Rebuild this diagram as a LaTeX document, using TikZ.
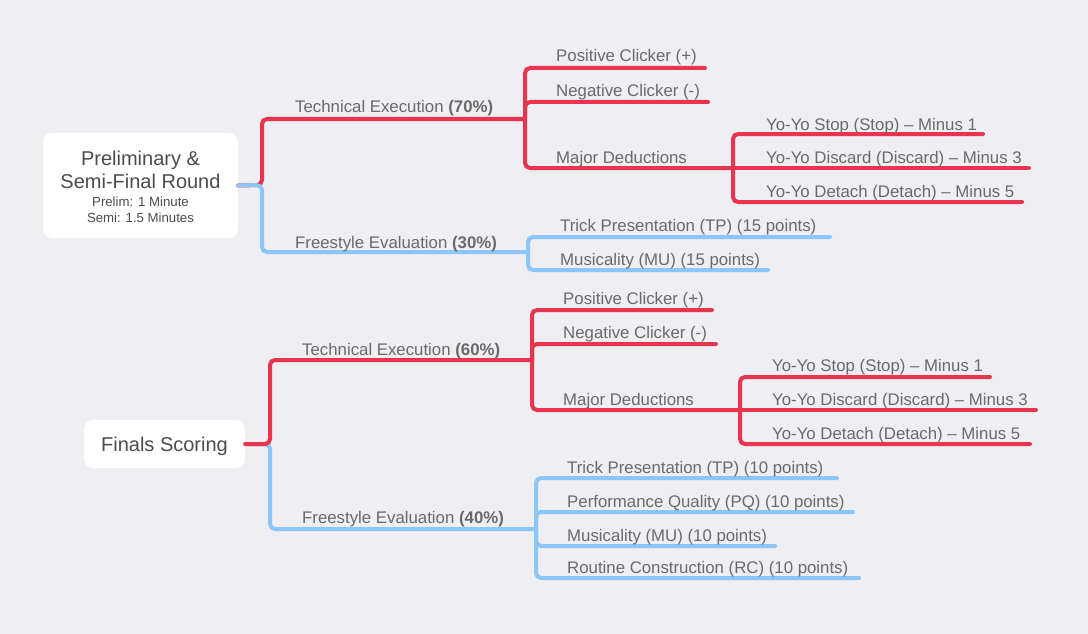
\documentclass[tikz,border=0pt]{standalone}
\usepackage{fontspec}
\setmainfont{Liberation Sans}
\definecolor{bg}{HTML}{EEEEF3}
\definecolor{redl}{HTML}{E8344F}
\definecolor{bluel}{HTML}{8AC6F8}
\definecolor{txt}{HTML}{6A6A6A}
\definecolor{roottxt}{HTML}{4C4C4C}
\begin{document}
\begin{tikzpicture}[x=1pt,y=-1pt,
  redline/.style={draw=redl,line width=4pt,rounded corners=5pt,line cap=round},
  blueline/.style={draw=bluel,line width=4pt,rounded corners=5pt,line cap=round},
  lbl/.style={anchor=base west,inner sep=0pt,text=txt,font=\fontsize{16.8}{19}\selectfont},
  rootbox/.style={fill=white,rounded corners=9pt,inner sep=0pt},
  roottitle/.style={anchor=base,inner sep=0pt,text=roottxt,font=\fontsize{20}{23}\selectfont},
  rootsub/.style={anchor=base,inner sep=0pt,text=roottxt,font=\fontsize{13.2}{16}\selectfont}]
\fill[bg] (0,0) rectangle (1088,634);
\useasboundingbox (0,0) rectangle (1088,634);

% ---------- top tree ----------
\node[rootbox,minimum width=195pt,minimum height=105pt] (r1) at (140.5,185.5) {};
\node[roottitle] (r1a) at (140.5,165) {Preliminary \&};
\node[roottitle] (r1b) at (140.5,188) {Semi-Final Round};
\node[rootsub] (r1c) at (140.5,206) {Prelim: 1 Minute};
\node[rootsub] (r1d) at (140.5,222) {Semi: 1.5 Minutes};

\coordinate (j1) at (262,185);
\coordinate (te1e) at (525,119);
\coordinate (fe1e) at (528,252);
\coordinate (pc1e) at (705,68);
\coordinate (nc1e) at (708,102);
\coordinate (md1e) at (733,168);
\coordinate (st1e) at (983,134);
\coordinate (di1e) at (1029,168);
\coordinate (de1e) at (1022,202);
\coordinate (tp1e) at (830,237);
\coordinate (mu1e) at (768,270);

\draw[redline] (r1.east) -- (j1) |- (te1e);
\draw[blueline] (r1.east) -- (j1) |- (fe1e);
\draw[redline] (te1e) |- (pc1e);
\draw[redline] (te1e) |- (nc1e);
\draw[redline] (te1e) |- (md1e);
\draw[redline] (md1e) |- (st1e);
\draw[redline] (md1e) -- (di1e);
\draw[redline] (md1e) |- (de1e);
\draw[blueline] (fe1e) |- (tp1e);
\draw[blueline] (fe1e) |- (mu1e);

\node[lbl] (te1) at (295,113) {Technical Execution \textbf{(70\%)}};
\node[lbl] (fe1) at (295,248) {Freestyle Evaluation \textbf{(30\%)}};
\node[lbl] (pc1) at (556,62) {Positive Clicker (+)};
\node[lbl] (nc1) at (556,96) {Negative Clicker (-)};
\node[lbl] (md1) at (556,163) {Major Deductions};
\node[lbl] (st1) at (766,130) {Yo-Yo Stop (Stop) – Minus 1};
\node[lbl] (di1) at (766,164) {Yo-Yo Discard (Discard) – Minus 3};
\node[lbl] (de1) at (766,197) {Yo-Yo Detach (Detach) – Minus 5};
\node[lbl] (tp1) at (560,231) {Trick Presentation (TP) (15 points)};
\node[lbl] (mu1) at (560,265) {Musicality (MU) (15 points)};

% ---------- bottom tree ----------
\node[rootbox,minimum width=161pt,minimum height=48pt] (r2) at (164.5,444) {};
\node[roottitle] (r2a) at (164.5,451) {Finals Scoring};

\coordinate (j2) at (270,444);
\coordinate (te2e) at (532,360);
\coordinate (fe2e) at (536,529);
\coordinate (pc2e) at (712,310);
\coordinate (nc2e) at (716,344);
\coordinate (md2e) at (740,410);
\coordinate (st2e) at (990,377);
\coordinate (di2e) at (1036,410);
\coordinate (de2e) at (1030,444);
\coordinate (tp2e) at (837,478);
\coordinate (pq2e) at (853,512);
\coordinate (mu2e) at (775,546);
\coordinate (rc2e) at (859,578);

\draw[blueline] (r2.east) -- (j2) |- (fe2e);
\draw[redline] (r2.east) -- (j2) |- (te2e);
\draw[redline] (te2e) |- (pc2e);
\draw[redline] (te2e) |- (nc2e);
\draw[redline] (te2e) |- (md2e);
\draw[redline] (md2e) |- (st2e);
\draw[redline] (md2e) -- (di2e);
\draw[redline] (md2e) |- (de2e);
\draw[blueline] (fe2e) |- (tp2e);
\draw[blueline] (fe2e) |- (pq2e);
\draw[blueline] (fe2e) |- (mu2e);
\draw[blueline] (fe2e) |- (rc2e);

\node[lbl] (te2) at (302,355) {Technical Execution \textbf{(60\%)}};
\node[lbl] (fe2) at (302,523) {Freestyle Evaluation \textbf{(40\%)}};
\node[lbl] (pc2) at (563,304) {Positive Clicker (+)};
\node[lbl] (nc2) at (563,338) {Negative Clicker (-)};
\node[lbl] (md2) at (563,405) {Major Deductions};
\node[lbl] (st2) at (772,371) {Yo-Yo Stop (Stop) – Minus 1};
\node[lbl] (di2) at (772,405) {Yo-Yo Discard (Discard) – Minus 3};
\node[lbl] (de2) at (772,439) {Yo-Yo Detach (Detach) – Minus 5};
\node[lbl] (tp2) at (567,473) {Trick Presentation (TP) (10 points)};
\node[lbl] (pq2) at (567,507) {Performance Quality (PQ) (10 points)};
\node[lbl] (mu2) at (567,541) {Musicality (MU) (10 points)};
\node[lbl] (rc2) at (567,573) {Routine Construction (RC) (10 points)};
\end{tikzpicture}
\end{document}
